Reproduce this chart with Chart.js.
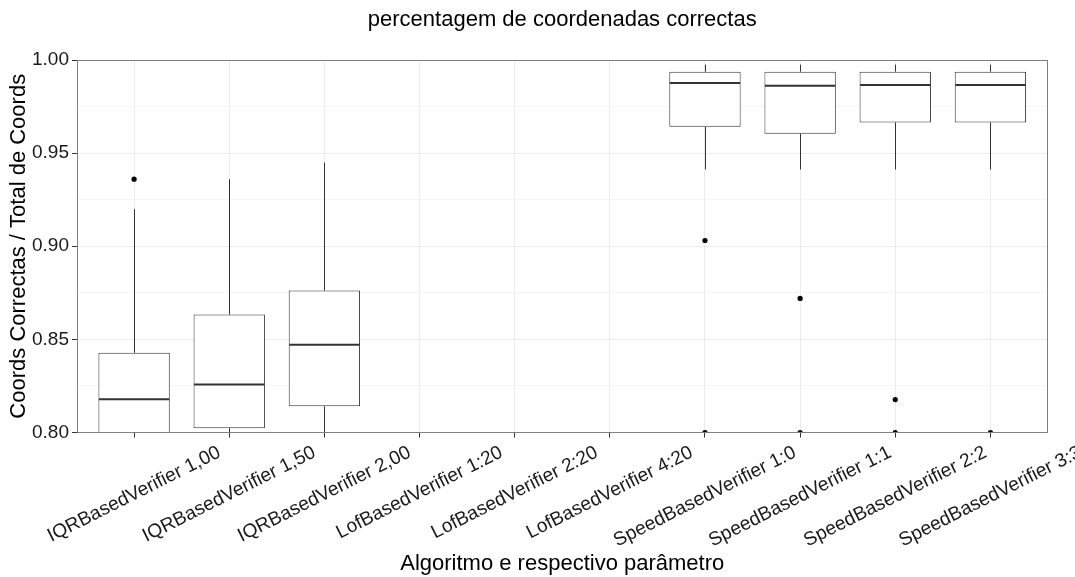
<!DOCTYPE html>
<html><head><meta charset="utf-8">
<script src="https://cdn.jsdelivr.net/npm/chart.js@4"></script>
<style>html,body{margin:0;padding:0;background:#fff}</style>
</head><body>
<canvas id="c" width="1075" height="577"></canvas>
<script>
// ---- data ----
const categories = ['IQRBasedVerifier 1,00','IQRBasedVerifier 1,50','IQRBasedVerifier 2,00',
  'LofBasedVerifier 1:20','LofBasedVerifier 2:20','LofBasedVerifier 4:20',
  'SpeedBasedVerifier 1:0','SpeedBasedVerifier 1:1','SpeedBasedVerifier 2:2','SpeedBasedVerifier 3:3'];
const q1         = [0.790, 0.8023, 0.8141, null, null, null, 0.9641, 0.9604, 0.9665, 0.9665];
const medians    = [0.8179, 0.8258, 0.8471, null, null, null, 0.9876, 0.9862, 0.9866, 0.9866];
const q3         = [0.8428, 0.8634, 0.8762, null, null, null, 0.9937, 0.9937, 0.9937, 0.9937];
const whiskerLow = [0.74, 0.76, 0.77, null, null, null, 0.9412, 0.9412, 0.9412, 0.9412];
const whiskerHigh= [0.9199, 0.936, 0.945, null, null, null, 0.9975, 0.9975, 0.9975, 0.9975];
const outliers   = [[0.936], [], [], [], [], [], [0.9031, 0.80], [0.872, 0.80], [0.8177, 0.80], [0.80]];
const yTicks      = [0.80, 0.825, 0.85, 0.875, 0.90, 0.925, 0.95, 0.975, 1.00];
const yTickLabels = ['0.80', '', '0.85', '', '0.90', '', '0.95', '', '1.00'];

const FONT = '"Liberation Sans", Arial, Helvetica, sans-serif';
const XLAB_SIZE = 19.2;
const XLAB_ANGLE = 26.7 * Math.PI / 180;

const boxData = categories.map((c, i) => ({x: i + 1, y: q1[i] == null ? null : [q1[i], q3[i]]}));
const outlierPoints = [];
categories.forEach((c, i) => outliers[i].forEach(v => outlierPoints.push({x: i + 1, y: v})));

const isMajor = v => yTickLabels[yTicks.findIndex(t => Math.abs(t - v) < 1e-9)] !== '';

const boxPlugin = {
  id: 'boxExtras',
  afterDatasetsDraw(chart) {
    const {ctx, chartArea: a, scales: {y}} = chart;
    const meta = chart.getDatasetMeta(1);
    ctx.save();
    ctx.beginPath();
    ctx.rect(a.left, a.top, a.right - a.left, a.bottom - a.top);
    ctx.clip();
    ctx.strokeStyle = '#333333';
    meta.data.forEach((bar, i) => {
      if (q1[i] == null) return;
      const cx = Math.round(bar.x) + 0.5;
      ctx.lineWidth = 1;
      ctx.beginPath();
      ctx.moveTo(cx, y.getPixelForValue(q3[i]));
      ctx.lineTo(cx, y.getPixelForValue(whiskerHigh[i]));
      ctx.moveTo(cx, y.getPixelForValue(q1[i]));
      ctx.lineTo(cx, y.getPixelForValue(whiskerLow[i]));
      ctx.stroke();
      const half = bar.width / 2;
      const my = y.getPixelForValue(medians[i]);
      ctx.lineWidth = 2;
      ctx.beginPath();
      ctx.moveTo(bar.x - half + 0.5, my);
      ctx.lineTo(bar.x + half - 0.5, my);
      ctx.stroke();
    });
    ctx.restore();
  },
  afterDraw(chart) {
    const {ctx, chartArea: a, scales: {x}} = chart;
    ctx.save();
    ctx.strokeStyle = '#7f7f7f';
    ctx.lineWidth = 1;
    ctx.strokeRect(Math.round(a.left) + 0.5, Math.round(a.top) + 0.5,
      Math.round(a.right) - Math.round(a.left) - 1, Math.round(a.bottom) - Math.round(a.top) - 1);
    ctx.font = XLAB_SIZE + 'px ' + FONT;
    ctx.fillStyle = '#1a1a1a';
    ctx.textAlign = 'center';
    ctx.textBaseline = 'middle';
    const s = Math.sin(XLAB_ANGLE), c = Math.cos(XLAB_ANGLE);
    categories.forEach((lab, i) => {
      const px = x.getPixelForValue(i + 1);
      const w = ctx.measureText(lab).width;
      const h = XLAB_SIZE;
      const cy = a.bottom + 10.4 + 0.5 * w * s + 0.5 * h * c;
      ctx.save();
      ctx.translate(px, cy);
      ctx.rotate(-XLAB_ANGLE);
      ctx.fillText(lab, 0, 0);
      ctx.restore();
    });
    ctx.restore();
  }
};

new Chart(document.getElementById('c'), {
  type: 'bar',
  data: {
    datasets: [
      {type: 'scatter', label: 'outliers', data: outlierPoints, order: 0,
       pointRadius: 2.6, pointHoverRadius: 2.6, pointBackgroundColor: '#000', pointBorderWidth: 0},
      {type: 'bar', label: 'box', data: boxData, order: 1,
       backgroundColor: '#ffffff', borderColor: '#333333', borderWidth: 1, borderSkipped: false,
       barPercentage: 0.75, categoryPercentage: 1.0}
    ]
  },
  options: {
    responsive: false, animation: false, devicePixelRatio: 1,
    layout: {padding: {left: 0, right: 27.5, top: 0, bottom: 0}},
    plugins: {
      legend: {display: false},
      tooltip: {enabled: false},
      title: {display: true, fullSize: false, text: 'percentagem de coordenadas correctas', color: '#000',
        font: {family: FONT, size: 22, weight: 'normal'}, padding: {top: 6.3, bottom: 27.3}}
    },
    scales: {
      x: {
        type: 'linear', min: 0.4, max: 10.6, offset: false,
        afterBuildTicks: s => { s.ticks = categories.map((c, i) => ({value: i + 1})); },
        afterFit: s => { s.height = 144.5; },
        ticks: {display: false},
        grid: {offset: false, color: '#ebebeb', lineWidth: 1, tickColor: '#333333', tickLength: 5, drawTicks: true},
        border: {display: false},
        title: {display: true, text: 'Algoritmo e respectivo parâmetro', color: '#000',
          font: {family: FONT, size: 22}, padding: {top: 0, bottom: 0}}
      },
      y: {
        type: 'linear', min: 0.8, max: 1.0,
        afterBuildTicks: s => { s.ticks = yTicks.map(v => ({value: v})); },
        afterFit: s => { s.width = 77; },
        ticks: {
          callback: (v, i) => yTickLabels[i],
          color: '#1a1a1a', font: {family: FONT, size: 19}, padding: 3, autoSkip: false
        },
        grid: {
          color: c => (c.tick && isMajor(c.tick.value)) ? '#ebebeb' : '#f5f5f5',
          tickColor: c => (c.tick && isMajor(c.tick.value)) ? '#333333' : 'rgba(0,0,0,0)',
          tickLength: 5, lineWidth: 1
        },
        border: {display: false},
        title: {display: true, text: 'Coords Correctas / Total de Coords', color: '#000',
          font: {family: FONT, size: 22}, padding: {top: 5.8, bottom: 0}}
      }
    }
  },
  plugins: [boxPlugin]
});
</script>
</body></html>
